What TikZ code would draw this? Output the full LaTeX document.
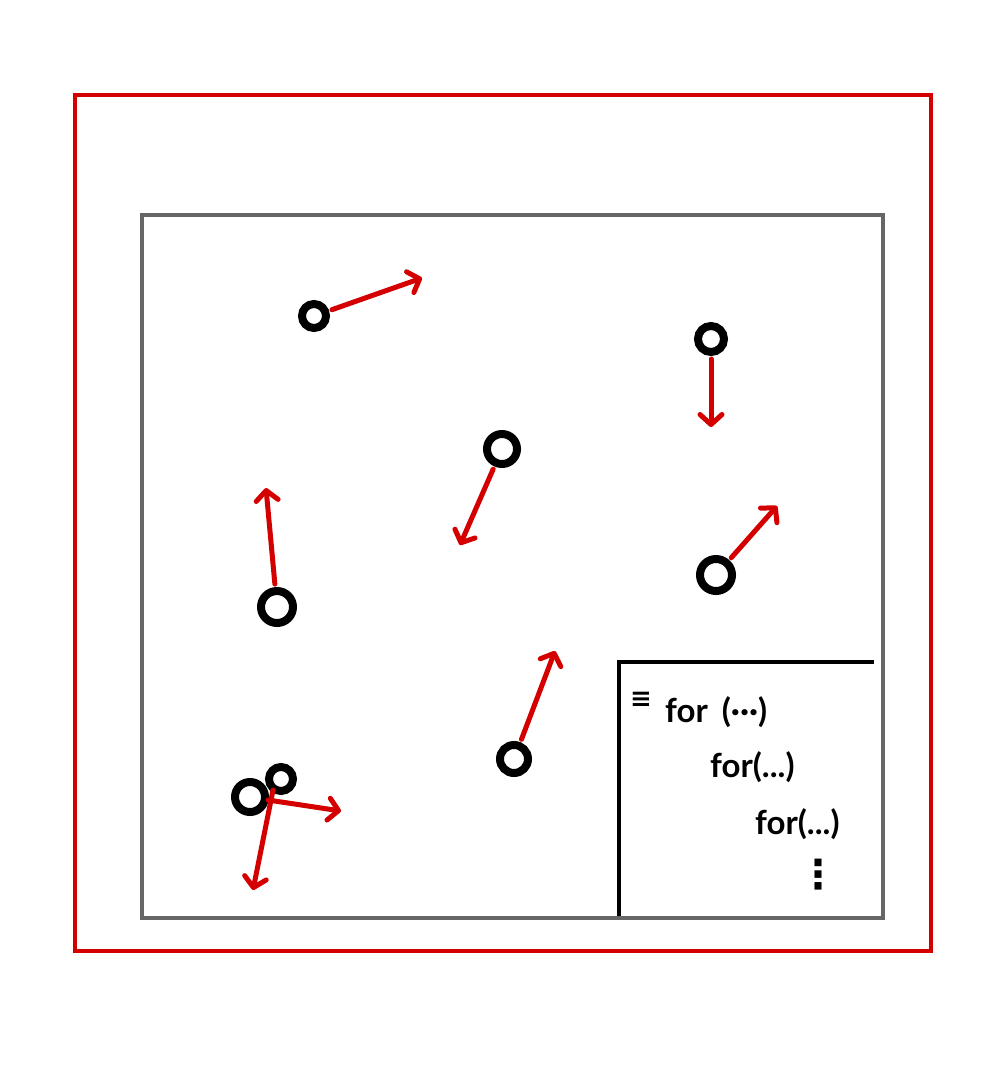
\documentclass[tikz,border=0pt]{standalone}
\usepackage{fontspec}
\setmainfont{Lato}
\newfontfamily\symfont{DejaVu Sans}
\usetikzlibrary{arrows.meta}
\definecolor{hred}{HTML}{D40000}
\definecolor{hgray}{HTML}{666666}
\tikzset{
  particle/.style={circle, draw=black, line width=8pt, minimum size=26pt, inner sep=0pt},
  vel/.style={draw=hred, line width=5pt, line cap=round, shorten <=3pt,
    -{Straight Barb[length=10pt,width=22pt,line width=5pt,round]}},
  code/.style={font=\bfseries\fontsize{33}{36}\selectfont, anchor=base west, inner sep=0pt}
}
\begin{document}
\begin{tikzpicture}[x=1pt,y=-1pt]
\useasboundingbox (0,0) rectangle (1000,1071);
\fill[white] (0,0) rectangle (1000,1071);
% frames
\draw[hred, line width=4pt] (75,95) rectangle (931,951);
\draw[hgray, line width=4.5pt] (142,215) rectangle (883,918);
\draw[black, line width=4.5pt] (619,916) -- (619,662) -- (874,662);
% code text
\node[code] (c0) at (630,707) {\symfont\fontsize{26}{28}\selectfont ≡};
\node[code] (c1) at (665,722) {for\hspace{14pt}(···)};
\node[code] (c2) at (710,777) {for(...)};
\node[code] (c3) at (755,834) {for(...)};
\node[code] (c4) at (798,888) {\symfont\fontsize{40}{42}\selectfont ⋮};
% particles
\node[particle, minimum size=24pt] (p1) at (314,316) {};
\node[particle, minimum size=26pt] (p2) at (711,339) {};
\node[particle, minimum size=30pt] (p3) at (502,449) {};
\node[particle, minimum size=32pt] (p4) at (277,607) {};
\node[particle, minimum size=32pt] (p5) at (716,575) {};
\node[particle, minimum size=28pt] (p6) at (514,759) {};
\node[particle, minimum size=30pt] (p7) at (250,797) {};
\node[particle, minimum size=24pt] (p8) at (281,779) {};
% velocity targets
\coordinate (v1) at (422,278);
\coordinate (v2) at (711,427);
\coordinate (v3) at (460,545);
\coordinate (v4) at (266,488);
\coordinate (v5) at (777,506);
\coordinate (v6) at (555,651);
\coordinate (v7a) at (341,811);
\coordinate (v7b) at (253,890);
\coordinate (s7a) at (268,800);
\coordinate (s7b) at (273,790);
% velocities
\draw[vel] (p1) -- (v1);
\draw[vel] (p2) -- (v2);
\draw[vel] (p3) -- (v3);
\draw[vel] (p4) -- (v4);
\draw[vel] (p5) -- (v5);
\draw[vel] (p6) -- (v6);
\draw[vel, shorten <=0pt] (s7a) -- (v7a);
\draw[vel, shorten <=0pt] (s7b) -- (v7b);
\end{tikzpicture}
\end{document}
